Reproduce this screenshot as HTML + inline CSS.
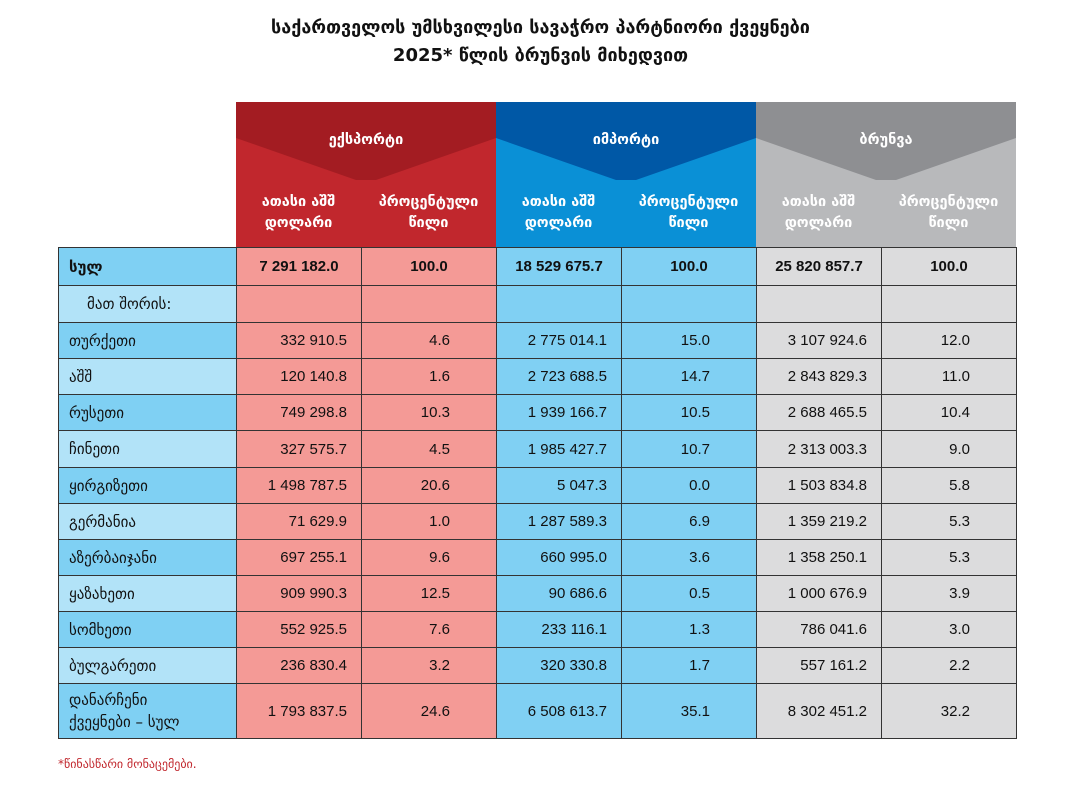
<!DOCTYPE html>
<html><head><meta charset="utf-8">
<style>
body{margin:0;width:1081px;height:795px;background:#fff;position:relative;overflow:hidden;font-family:"Liberation Sans","DejaVu Sans",sans-serif;}
.t{position:absolute;left:0;width:1081px;text-align:center;font-weight:bold;font-size:18px;color:#111;font-family:"DejaVu Sans","Liberation Sans",sans-serif;}
.c{position:absolute;box-sizing:border-box;display:flex;align-items:center;font-size:15px;color:#111;}
.lab{font-family:"DejaVu Sans","Liberation Sans",sans-serif;font-size:15px;padding-left:10px;}
.num{justify-content:flex-end;padding-right:14px;}
.pct{justify-content:flex-end;padding-right:46px;}
.hd{position:absolute;color:#fff;font-weight:bold;font-size:14.5px;text-align:center;font-family:"DejaVu Sans",sans-serif;line-height:21px;}
.note{position:absolute;left:58px;top:757px;color:#c1272d;font-size:12px;font-family:"DejaVu Sans",sans-serif;}
</style></head><body>
<div class="t" style="top:17px">საქართველოს უმსხვილესი სავაჭრო პარტნიორი ქვეყნები</div>
<div class="t" style="top:45px">2025* წლის ბრუნვის მიხედვით</div>
<svg id="hdr" style="position:absolute;left:0;top:0" width="1081" height="260"></svg>
<div id="tbl"></div>
<div class="note">*წინასწარი მონაცემები.</div>
<script>
const countries=["სულ","მათ შორის:","თურქეთი","აშშ","რუსეთი","ჩინეთი","ყირგიზეთი","გერმანია","აზერბაიჯანი","ყაზახეთი","სომხეთი","ბულგარეთი","დანარჩენი ქვეყნები – სულ"];
const exportVals=["7 291 182.0","","332 910.5","120 140.8","749 298.8","327 575.7","1 498 787.5","71 629.9","697 255.1","909 990.3","552 925.5","236 830.4","1 793 837.5"];
const exportPct=["100.0","","4.6","1.6","10.3","4.5","20.6","1.0","9.6","12.5","7.6","3.2","24.6"];
const importVals=["18 529 675.7","","2 775 014.1","2 723 688.5","1 939 166.7","1 985 427.7","5 047.3","1 287 589.3","660 995.0","90 686.6","233 116.1","320 330.8","6 508 613.7"];
const importPct=["100.0","","15.0","14.7","10.5","10.7","0.0","6.9","3.6","0.5","1.3","1.7","35.1"];
const turnVals=["25 820 857.7","","3 107 924.6","2 843 829.3","2 688 465.5","2 313 003.3","1 503 834.8","1 359 219.2","1 358 250.1","1 000 676.9","786 041.6","557 161.2","8 302 451.2"];
const turnPct=["100.0","","12.0","11.0","10.4","9.0","5.8","5.3","5.3","3.9","3.0","2.2","32.2"];

const colX=[58,236,361,496,621,756,881,1016];
const rowY=[247,285,322,358,394,430,467,503,539,575,611,647,683,738];
const tbl=document.getElementById('tbl');
const cols=[exportVals,exportPct,importVals,importPct,turnVals,turnPct];
const bg=["#f49a96","#f49a96","#80d0f3","#80d0f3","#dcdcdd","#dcdcdd"];
for(let r=0;r<countries.length;r++){
  const y=rowY[r],h=rowY[r+1]-y;
  const lc=document.createElement('div');
  lc.className='c lab';
  
  
  lc.style.cssText=`left:${colX[0]}px;top:${y}px;width:${colX[1]-colX[0]+1}px;height:${h+1}px;border:1px solid #333;background:${(r%2==0)?'#7fd0f3':'#b2e3f8'};`+(r==0?'font-weight:bold;':'')+(r==1?'padding-left:28px;':'');
  if(r==12){lc.style.lineHeight='22px';lc.innerHTML=countries[r].replace(' ','<br>');}
  else lc.textContent=countries[r];
  tbl.appendChild(lc);
  for(let c=0;c<6;c++){
    const d=document.createElement('div');
    d.className='c '+(c%2==0?'num':'pct');
    
    
    d.style.cssText=`left:${colX[c+1]}px;top:${y}px;width:${colX[c+2]-colX[c+1]+1}px;height:${h+1}px;border:1px solid #333;background:${bg[c]};`+(r==0?'font-weight:bold;justify-content:center;padding:0;':'');
    d.textContent=cols[c][r];
    tbl.appendChild(d);
  }
}
const svg=document.getElementById('hdr');
const groups=[["ექსპორტი","#a31c22","#c1272d"],["იმპორტი","#0058a6","#0a90d6"],["ბრუნვა","#8e8f92","#b8b9bb"]];
const NS="http://www.w3.org/2000/svg";
groups.forEach((g,i)=>{
  const x0=colX[1+2*i],x1=colX[3+2*i],mx=(x0+x1)/2;
  const a=document.createElementNS(NS,'rect');
  a.setAttribute('x',x0);a.setAttribute('y',102);a.setAttribute('width',x1-x0);a.setAttribute('height',145);a.setAttribute('fill',g[2]);
  
  svg.appendChild(a);
  const p=document.createElementNS(NS,'polygon');
  p.setAttribute('points',`${x0},102 ${x1},102 ${x1},138 ${mx+10},180 ${mx-10},180 ${x0},138`);
  p.setAttribute('fill',g[1]);
  
  svg.appendChild(p);
  const h=document.createElement('div');
  h.className='hd';h.style.cssText=`left:${x0}px;top:130px;width:${x1-x0}px;`;
  
  
  h.textContent=g[0];document.body.appendChild(h);
  ["ათასი აშშ დოლარი","პროცენტული წილი"].forEach((s,k)=>{
    const e=document.createElement('div');
    e.className='hd';
    const cx=colX[1+2*i+k],cw=colX[2+2*i+k]-cx;
    e.style.cssText=`left:${cx}px;top:192px;width:${cw}px;`;
    
    
    e.innerHTML=s.replace(' დ','<br>დ').replace(' წ','<br>წ');
    document.body.appendChild(e);
  });
});
</script>
</body></html>
